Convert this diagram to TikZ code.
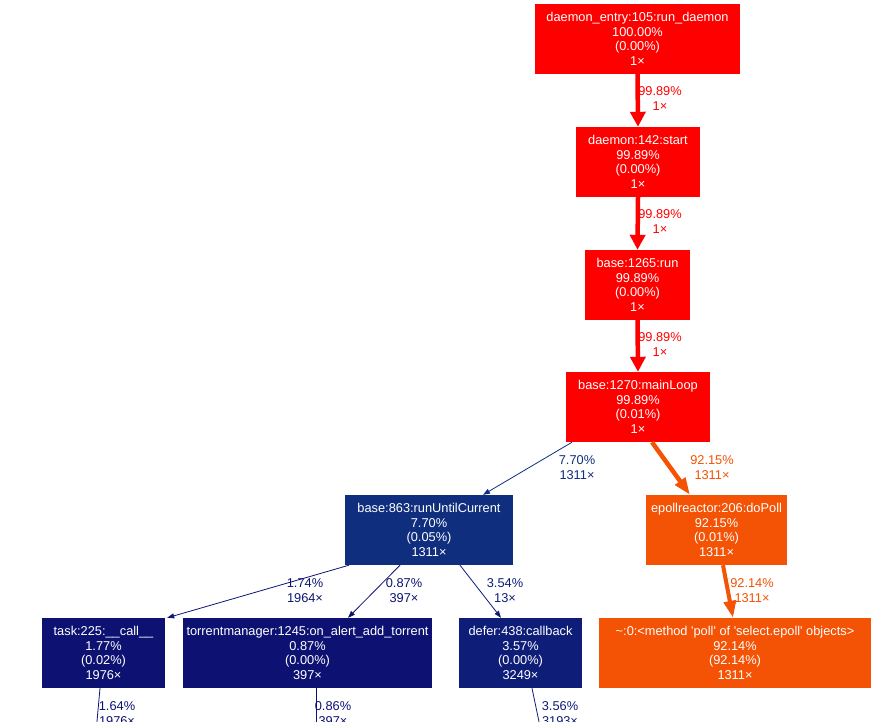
\documentclass[tikz,border=0pt]{standalone}
\usepackage{fontspec}
\setmainfont{Liberation Sans}
\usetikzlibrary{arrows.meta}
\definecolor{cred}{HTML}{FF0000}
\definecolor{corange}{HTML}{F45205}
\definecolor{cblue}{HTML}{0F2E7E}
\definecolor{cnavy}{HTML}{0D1272}
\definecolor{cnavyb}{HTML}{0D1574}
\definecolor{cdefer}{HTML}{0E1D78}
\begin{document}
\begin{tikzpicture}[x=1pt,y=-1pt,
  box/.style={rectangle, inner sep=0pt, text=white, align=center, font=\fontsize{12.8}{14.5}\selectfont, minimum height=70pt},
  lbl/.style={align=center, font=\fontsize{12.8}{14.5}\selectfont, inner sep=0pt},
  bigedge/.style={line width=4.5pt, -{Triangle[length=15pt,width=15pt]}},
  smalledge/.style={line width=0.8pt, -{Triangle[length=7pt,width=5pt]}}]
\clip (0,0) rectangle (881,721);
\fill[white] (0,0) rectangle (881,721);

% nodes
\node[box, fill=cred, minimum width=205pt] (n1) at (637.5,39) {daemon\_entry:105:run\_daemon\\100.00\%\\(0.00\%)\\1×};
\node[box, fill=cred, minimum width=124pt] (n2) at (638,162) {daemon:142:start\\99.89\%\\(0.00\%)\\1×};
\node[box, fill=cred, minimum width=105pt] (n3) at (637.5,285) {base:1265:run\\99.89\%\\(0.00\%)\\1×};
\node[box, fill=cred, minimum width=144pt] (n4) at (638,407) {base:1270:mainLoop\\99.89\%\\(0.01\%)\\1×};
\node[box, fill=cblue, minimum width=168pt] (n5) at (429,530) {base:863:runUntilCurrent\\7.70\%\\(0.05\%)\\1311×};
\node[box, fill=corange, minimum width=141pt] (n6) at (716.5,530) {epollreactor:206:doPoll\\92.15\%\\(0.01\%)\\1311×};
\node[box, fill=cnavy, minimum width=123pt] (n7) at (103.5,653) {task:225:\_\_call\_\_\\1.77\%\\(0.02\%)\\1976×};
\node[box, fill=cnavy, minimum width=249pt] (n8) at (307.5,653) {torrentmanager:1245:on\_alert\_add\_torrent\\0.87\%\\(0.00\%)\\397×};
\node[box, fill=cdefer, minimum width=123pt] (n9) at (520.5,653) {defer:438:callback\\3.57\%\\(0.00\%)\\3249×};
\node[box, fill=corange, minimum width=272pt] (n10) at (735,653) {\textasciitilde:0:<method \textquotesingle poll\textquotesingle\ of \textquotesingle select.epoll\textquotesingle\ objects>\\92.14\%\\(92.14\%)\\1311×};

% off-picture targets
\coordinate (o7) at (93.5,760);
\coordinate (o8) at (316,760);
\coordinate (o9) at (547,760);

% edges
\draw[bigedge, cred] (n1.south) -- (n2.north);
\node[lbl, text=cred] (l1) at (660,98.5) {99.89\%\\1×};
\draw[bigedge, cred] (n2.south) -- (n3.north);
\node[lbl, text=cred] (l2) at (660,221.5) {99.89\%\\1×};
\draw[bigedge, cred] (n3.south) -- (n4.north);
\node[lbl, text=cred] (l3) at (660,344.5) {99.89\%\\1×};

\draw[smalledge, cblue] ([xshift=-66pt]n4.south) -- ([xshift=54pt]n5.north);
\node[lbl, text=cblue] (l4) at (577,467.5) {7.70\%\\1311×};
\draw[bigedge, corange, -{Triangle[length=17pt,width=12pt]}] ([xshift=14pt]n4.south) -- ([xshift=-26.5pt]n6.north);
\node[lbl, text=corange] (l5) at (712,467.5) {92.15\%\\1311×};

\draw[smalledge, cnavyb] ([xshift=-80pt]n5.south) -- ([xshift=2pt]n7.north east);
\node[lbl, text=cnavyb] (l6) at (305,590.5) {1.74\%\\1964×};
\draw[smalledge, cnavy] ([xshift=-29pt]n5.south) -- ([xshift=40.5pt]n8.north);
\node[lbl, text=cnavy] (l7) at (404,590.5) {0.87\%\\397×};
\draw[smalledge, cdefer] ([xshift=31pt]n5.south) -- ([xshift=-19.5pt]n9.north);
\node[lbl, text=cdefer] (l8) at (505,590.5) {3.54\%\\13×};
\draw[bigedge, corange, line width=4pt, -{Triangle[length=17pt,width=12pt]}] ([xshift=6.5pt]n6.south) -- ([xshift=-2pt]n10.north);
\node[lbl, text=corange] (l9) at (752,590.5) {92.14\%\\1311×};

\draw[smalledge, cnavy] ([xshift=-3.5pt]n7.south) -- (o7);
\node[lbl, text=cnavy] (l10) at (117,713.5) {1.64\%\\1976×};
\draw[smalledge, cnavy] ([xshift=8.5pt]n8.south) -- (o8);
\node[lbl, text=cnavy] (l11) at (333,713.5) {0.86\%\\397×};
\draw[smalledge, cdefer] ([xshift=11.5pt]n9.south) -- (o9);
\node[lbl, text=cdefer] (l12) at (560,713.5) {3.56\%\\3193×};
\end{tikzpicture}
\end{document}
